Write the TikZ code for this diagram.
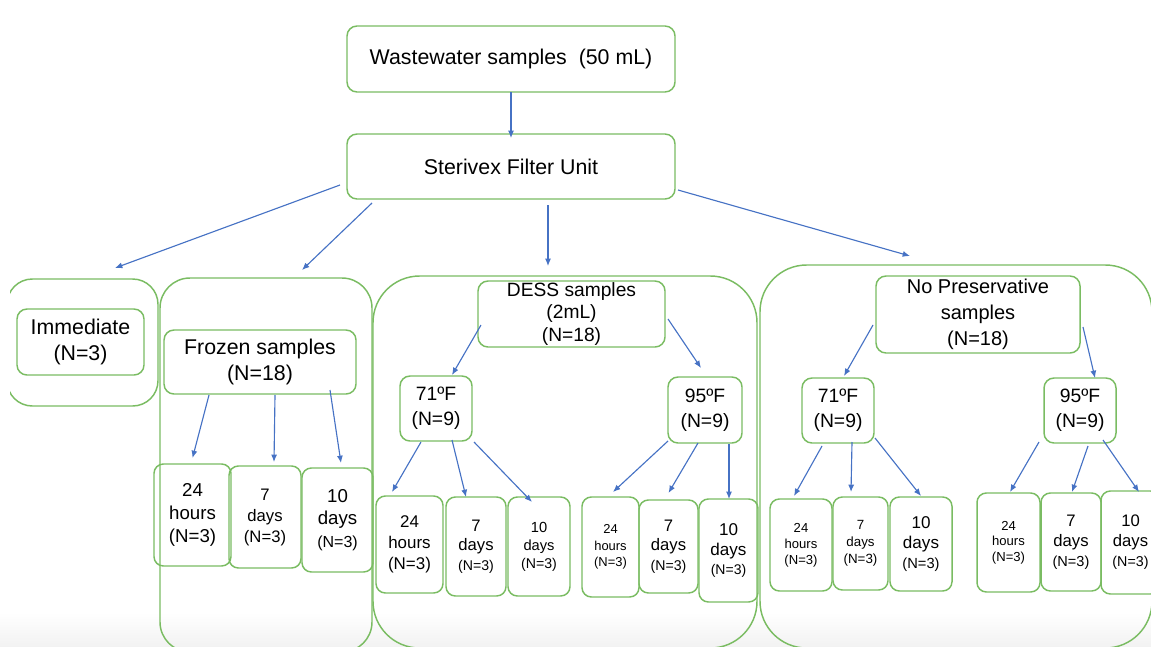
\documentclass[tikz,border=0pt]{standalone}
\usepackage{fontspec}
\setmainfont{Liberation Sans}
\usetikzlibrary{arrows.meta,calc}
\definecolor{framegreen}{RGB}{122,188,98}
\definecolor{arrowblue}{RGB}{70,114,196}
\newcommand\fsz[2]{\fontsize{#1}{#2}\selectfont}

\begin{document}
\begin{tikzpicture}[x=0.75pt,y=-0.75pt,
  box/.style={draw=framegreen, line width=1.1pt, rounded corners=7.5pt,
    inner sep=0pt, outer sep=0pt, align=center, text=black},
  % a box given by its left, top, right and bottom edges
  span/.style n args={4}{minimum width={(#3-#1)*0.75pt},
    minimum height={(#4-#2)*0.75pt}, at={({(#1+#3)/2},{(#2+#4)/2})}},
  grp/.style={box, rounded corners=#1},
  sub/.style={box, rounded corners=7pt},
  big/.style={font=\fsz{16}{20}},
  temp/.style={font=\fsz{14.5}{18.5}},
  arr/.style={draw=arrowblue, line width=0.85pt, -{Latex[length=5.5pt,width=4.5pt]}},
]
\clip (0,0) rectangle (1151,646);
% faint grey band along the lower edge
\shade[top color=white, bottom color=black!5] (0,612) rectangle (1151,646);

% top of the flow
\node[box,big,span={347}{26}{675}{92}] (ww) {Wastewater samples~ (50 mL)};
\node[box,big,span={347}{134}{675}{199}] (ster) {Sterivex Filter Unit};

% group frames
\begin{scope}
  \clip (10,0) rectangle (1151,646);
  \node[grp=19pt,span={7}{279}{158}{406}] (gImm) {};
\end{scope}
\node[grp=22.5pt,span={160}{278}{372}{652}] (gFroz) {};
\node[grp=35pt,span={373}{276}{757}{648}] (gDess) {};
\node[grp=35pt,span={760}{265}{1152}{648}] (gNP) {};

% immediate
\node[box,big,span={17}{309}{144}{375}] (imm) {Immediate\\(N=3)};

% frozen branch
\node[box,font=\fsz{16}{19.5},span={164}{330}{356}{394}] (froz) {Frozen samples\\(N=18)};
\node[sub,font=\fsz{14}{17},span={154}{464}{231}{566}] (f24) {24\\hours\\(N=3)};
\node[sub,font=\fsz{12.5}{15.75},span={229}{466}{301}{568}] (f7) {7\\days\\(N=3)};
\node[sub,font=\fsz{14}{17},span={302}{468}{373}{572}] (f10) {10\\days\\\fsz{12}{14}(N=3)};

% DESS branch
\node[box,font=\fsz{14.4}{17},span={478}{281}{665}{347}] (dess) {DESS samples\\(2mL)\\(N=18)};
\node[box,temp,span={400}{376}{472}{441}] (d71) {71ºF\\(N=9)};
\node[box,temp,span={668}{377}{742}{443}] (d95) {95ºF\\(N=9)};
\node[sub,font=\fsz{12.7}{15.75},span={376}{496}{443}{593}] (d71a) {24\\hours\\(N=3)};
\node[sub,font=\fsz{12.5}{14.6},span={446}{497}{506}{596}] (d71b) {7\\days\\\fsz{10.6}{13}(N=3)};
\node[sub,font=\fsz{11}{13.5},span={508}{497}{570}{596}] (d71c) {10\\days\\\fsz{10.6}{13}(N=3)};
\node[sub,font=\fsz{9.7}{12.4},span={582}{497}{639}{597}] (d95a) {24\\hours\\(N=3)};
\node[sub,font=\fsz{12.5}{14.6},span={639}{500}{698}{593}] (d95b) {7\\days\\\fsz{10.6}{13}(N=3)};
\node[sub,font=\fsz{12.8}{14.6},span={699}{499}{758}{602}] (d95c) {10\\days\\\fsz{10.5}{13}(N=3)};

% no-preservative branch
\node[box,font=\fsz{15}{19.5},span={876}{276}{1080}{353}] (np) {No Preservative\\samples\\(N=18)};
\node[box,temp,span={802}{378}{874}{443}] (n71) {71ºF\\(N=9)};
\node[box,temp,span={1044}{378}{1116}{443}] (n95) {95ºF\\(N=9)};
\node[sub,font=\fsz{9.8}{12},span={770}{499}{832}{591}] (n71a) {24\\hours\\(N=3)};
\node[sub,font=\fsz{10}{12.75},span={833}{497}{888}{590}] (n71b) {7\\days\\(N=3)};
\node[sub,font=\fsz{12.8}{15},span={890}{497}{952}{591}] (n71c) {10\\days\\\fsz{11}{13}(N=3)};
\node[sub,font=\fsz{9.8}{11.6},span={977}{493}{1040}{592}] (n95a) {24\\hours\\(N=3)};
\node[sub,font=\fsz{12.5}{15},span={1041}{493}{1101}{591}] (n95b) {7\\days\\\fsz{10.9}{13}(N=3)};
\node[sub,font=\fsz{12.5}{15},span={1101}{491}{1160}{594}] (n95c) {10\\days\\\fsz{10.7}{13}(N=3)};

% connectors
\draw[arr] (ww.south) -- ($(ster.north)+(0,4)$);
\draw[arr] ($(ster.south west)+(-7,-14)$) -- ($(gImm.north east)+(-43,-11)$);
\draw[arr] ($(ster.south west)+(25,4)$) -- ($(gFroz.north)+(36,-8)$);
\draw[arr] ($(ster.south)+(37,6)$) -- ($(gDess.north)+(-17,-10)$);
\draw[arr] ($(ster.south east)+(3,-9)$) -- ($(gNP.north)+(-46,-9)$);

\draw[arr] ($(froz.south)+(-51,1)$) -- ($(f24.north)+(0,-6)$);
\draw[arr] ($(froz.south)+(15,1)$) -- ($(f7.north)+(9,-4)$);
\draw[arr] ($(froz.south east)+(-26,-4)$) -- ($(f10.north)+(3.5,-5)$);

\draw[arr] ($(dess.west)+(3,11)$) -- ($(d71.north)+(16,-1)$);
\draw[arr] ($(dess.east)+(3,5)$) -- ($(d95.north)+(-4,-9)$);
\draw[arr] ($(d71.south)+(-15,1)$) -- ($(d71a.north)+(-17.5,-4)$);
\draw[arr] ($(d71.south)+(16,-1)$) -- ($(d71b.north)+(-10,0)$);
\draw[arr] ($(d71.south east)+(2,1)$) -- ($(d71c.north)+(-7,5)$);
\draw[arr] ($(d95.south west)+(0,-2)$) -- ($(d95a.north)+(2.5,-5)$);
\draw[arr] ($(d95.south)+(-7,0)$) -- ($(d95b.north)+(0,-7)$);
\draw[arr] ($(d95.south)+(24,1)$) -- ($(d95c.north)+(0.5,0)$);

\draw[arr] ($(np.west)+(-3,10.5)$) -- ($(n71.north)+(6,-2)$);
\draw[arr] ($(np.east)+(3,12.5)$) -- ($(n95.north)+(15,0)$);
\draw[arr] ($(n71.south)+(-16,3)$) -- ($(n71a.north)+(-7,-3)$);
\draw[arr] ($(n71.south)+(14,-1)$) -- ($(n71b.north)+(-9.5,-5)$);
\draw[arr] ($(n71.south east)+(1,-5)$) -- ($(n71c.north)+(0,-1)$);
\draw[arr] ($(n95.south west)+(-5,-1)$) -- ($(n95a.north)+(1.5,-1)$);
\draw[arr] ($(n95.south)+(8,3)$) -- ($(n95b.north)+(1,-1)$);
\draw[arr] ($(n95.south)+(23,-3)$) -- ($(n95c.north)+(8.5,1)$);
\end{tikzpicture}
\end{document}
